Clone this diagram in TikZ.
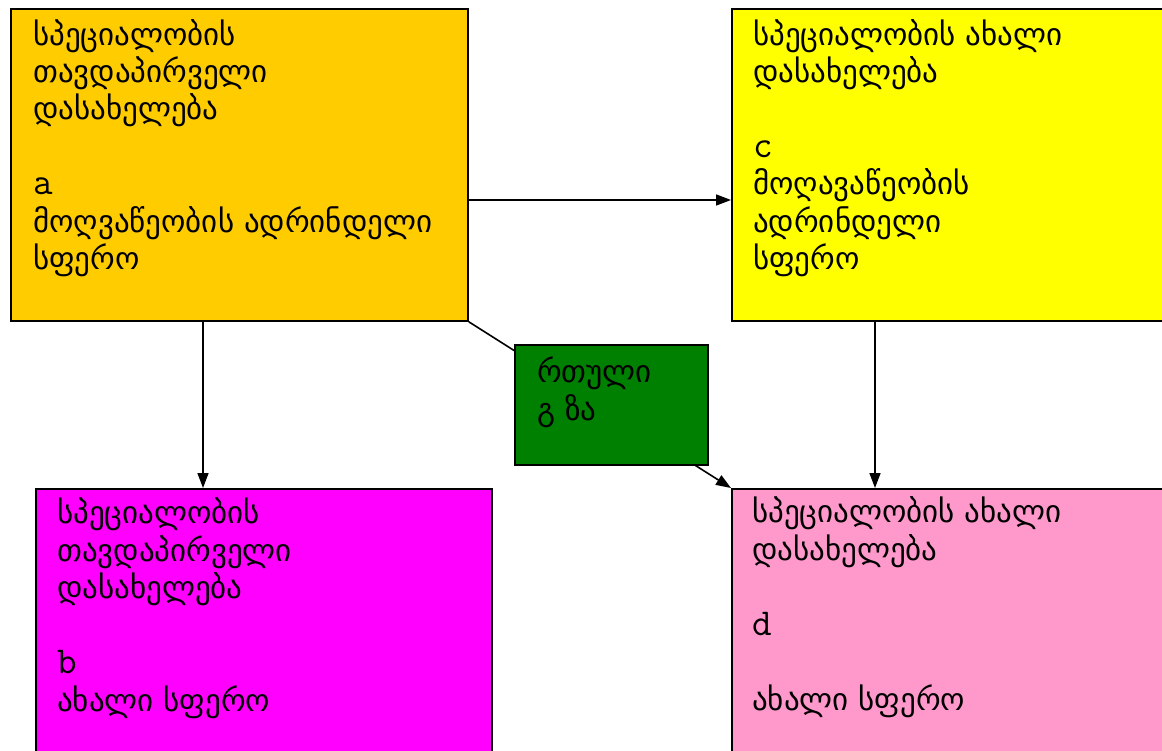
\documentclass[tikz,border=0pt]{standalone}
\usepackage{fontspec}
\usetikzlibrary{arrows.meta}
\newfontfamily\geofont{DejaVu Sans}
\definecolor{boxA}{HTML}{FFCC00}
\definecolor{boxC}{HTML}{FFFF00}
\definecolor{boxB}{HTML}{FF00FF}
\definecolor{boxD}{HTML}{FF99CC}
\definecolor{boxG}{HTML}{008000}
\newcommand{\tag}[1]{{\ttfamily\fontsize{38}{37.5}\selectfont #1}}
\begin{document}
\begin{tikzpicture}[x=1pt,y=-1pt,
  panel/.style={draw=black,line width=1.8pt,rectangle,inner sep=0pt,anchor=north west},
  % multi-line text: the base anchor sits on the last line
  txt/.style={anchor=base west,inner sep=0pt,align=left,
    font=\geofont\fontsize{31}{37.5}\selectfont},
  conn/.style={line width=1.6pt,-{Triangle[length=15pt,width=11pt]}}]
\useasboundingbox (0,0) rectangle (1162,751);
\clip (0,0) rectangle (1162,751);
\fill[white] (0,0) rectangle (1162,751);

% the four panels
\node[panel,fill=boxA,minimum width=457pt,minimum height=312pt] (A) at (10,8) {};
\node[panel,fill=boxC,minimum width=445pt,minimum height=312pt] (C) at (731,8) {};
\node[panel,fill=boxB,minimum width=456pt,minimum height=300pt] (B) at (35,488) {};
\node[panel,fill=boxD,minimum width=445pt,minimum height=300pt] (D) at (731,488) {};

% connectors
\draw[conn] (A.east |- 0,200) -- (C.west |- 0,200);
\draw[conn] (A.south -| 203,0) -- (B.north -| 203,0);
\draw[conn] (C.south -| 875,0) -- (D.north -| 875,0);
\draw[conn] (A.south east) -- (D.north west);

% the middle box sits on top of the diagonal
\node[panel,fill=boxG,minimum width=193pt,minimum height=120pt] (G) at (514,344) {};

% texts
\node[txt] (tA) at (33,270) {სპეციალობის\\თავდაპირველი\\დასახელება\\[37.5pt]\tag{a}\\მოღვაწეობის ადრინდელი\\სფერო};
\node[txt] (tC) at (753,270) {სპეციალობის ახალი\\დასახელება\\[37.5pt]\tag{c}\\მოღავაწეობის\\ადრინდელი\\სფერო};
\node[txt] (tB) at (57,711) {სპეციალობის\\თავდაპირველი\\დასახელება\\[37.5pt]\tag{b}\\ახალი სფერო};
\node[txt] (tD) at (752,710) {სპეციალობის ახალი\\დასახელება\\[37.5pt]\tag{d}\\[37.5pt]ახალი სფერო};
\node[txt] (tG) at (537,420) {რთული\\გ ზა};
\end{tikzpicture}
\end{document}
